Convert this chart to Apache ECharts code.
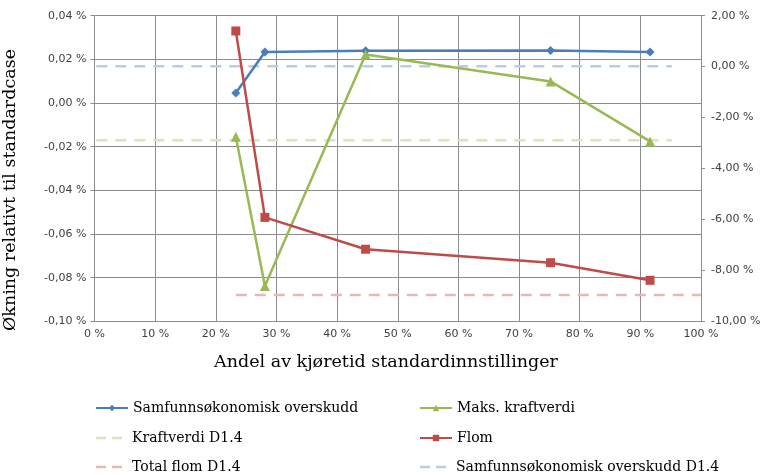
<!DOCTYPE html>
<html>
<head>
<meta charset="utf-8">
<script src="https://cdn.jsdelivr.net/npm/echarts@6/dist/echarts.min.js"></script>
<style>
  html, body { margin: 0; padding: 0; background: #fff; }
  #chart { width: 766px; height: 475px; }
</style>
</head>
<body>
<div id="chart"></div>
<script>
// Share of runtime with standard settings (%), shared by all measured series
const andelKjoretid = [23.3, 28.1, 44.7, 75.2, 91.6];

// Left axis (% increase relative to standard case)
const samfunnsokonomiskOverskudd = [0.0046, 0.0234, 0.0240, 0.0241, 0.0234];
const maksKraftverdi = [-0.0155, -0.0838, 0.0222, 0.0099, -0.0176];

// Right axis (%)
const flom = [1.40, -5.92, -7.17, -7.70, -8.39];

// Reference levels from case D1.4: [xStart, xEnd, value]
const kraftverdiD14 = [0.3, 95.2, -0.0171];
const samfunnsD14 = [0.3, 95.2, 0.0168];
const totalFlomD14 = [23.3, 100, -8.97];

// Axis tick settings
const xTicks = { min: 0, max: 100, interval: 10 };
const leftTicks = { min: -0.10, max: 0.04, interval: 0.02 };
const rightTicks = { min: -10, max: 2, interval: 2 };

const pairs = (xs, ys) => xs.map((x, i) => [x, ys[i]]);
const flat = (r) => [[r[0], r[2]], [r[1], r[2]]];
const fmt = (v, d) => {
  if (Math.abs(v) < 1e-9) v = 0;
  return v.toFixed(d).replace('.', ',') + ' %';
};

const axisGray = '#8c8c8c';
const labelStyle = { fontFamily: 'DejaVu Sans', fontSize: 11, color: '#404040' };
const serif = 'DejaVu Serif';

// Two short dashes as a legend icon for the reference levels (32 x 8 box)
const dashIcon = 'path://M0,0h0.05v0.05h-0.05z M31.95,7.95h0.05v0.05h-0.05z M1,2.8h10v2.4h-10z M17,2.8h10v2.4h-10z';

// Legend entries laid out in two columns and three rows
const legendSlots = [
  { name: 'Samfunnsøkonomisk overskudd', left: 95, top: 400 },
  { name: 'Maks. kraftverdi', left: 419, top: 400 },
  { name: 'Kraftverdi D1.4', left: 95, top: 430, icon: dashIcon },
  { name: 'Flom', left: 419, top: 430 },
  { name: 'Total flom D1.4', left: 95, top: 459, icon: dashIcon },
  { name: 'Samfunnsøkonomisk overskudd D1.4', left: 419, top: 459, icon: dashIcon }
];

const chart = echarts.init(document.getElementById('chart'));
chart.setOption({
  animation: false,
  grid: { left: 94.5, right: 65, top: 15.7, bottom: 153.7, containLabel: false },
  xAxis: {
    type: 'value',
    min: xTicks.min, max: xTicks.max, interval: xTicks.interval,
    axisLine: { show: true, lineStyle: { color: axisGray, width: 1 } },
    axisTick: { show: true, length: 4, lineStyle: { color: axisGray } },
    splitLine: { show: true, lineStyle: { color: axisGray, width: 1 } },
    axisLabel: Object.assign({ margin: 7, formatter: v => fmt(v, 0) }, labelStyle)
  },
  yAxis: [
    {
      type: 'value',
      min: leftTicks.min, max: leftTicks.max, interval: leftTicks.interval,
      axisLine: { show: true, lineStyle: { color: axisGray, width: 1 } },
      axisTick: { show: true, length: 4, lineStyle: { color: axisGray } },
      splitLine: { show: true, lineStyle: { color: axisGray, width: 1 } },
      axisLabel: Object.assign({ margin: 8, formatter: v => fmt(v, 2) }, labelStyle)
    },
    {
      type: 'value',
      position: 'right',
      min: rightTicks.min, max: rightTicks.max, interval: rightTicks.interval,
      axisLine: { show: true, lineStyle: { color: axisGray, width: 1 } },
      axisTick: { show: true, length: 4, lineStyle: { color: axisGray } },
      splitLine: { show: false },
      axisLabel: Object.assign({ margin: 10, formatter: v => fmt(v, 2) }, labelStyle)
    }
  ],
  legend: legendSlots.map(s => ({
    orient: 'horizontal', left: s.left, top: s.top, padding: 0,
    itemWidth: 32, itemHeight: 8,
    textStyle: { fontFamily: serif, fontSize: 14, color: '#000', lineHeight: 16 },
    data: [s.icon ? { name: s.name, icon: s.icon } : s.name]
  })),
  graphic: [
    {
      type: 'text', x: 386, y: 362,
      style: { text: 'Andel av kjøretid standardinnstillinger', fontFamily: serif, fontSize: 17.5, fill: '#000',
               align: 'center', verticalAlign: 'middle' }
    },
    {
      type: 'text', rotation: Math.PI / 2, x: 10, y: 190,
      style: { text: 'Økning relativt til standardcase', fontFamily: serif, fontSize: 17.5, fill: '#000',
               align: 'center', verticalAlign: 'middle' }
    }
  ],
  series: [
    {
      name: 'Kraftverdi D1.4', type: 'line', yAxisIndex: 0, symbol: 'none',
      data: flat(kraftverdiD14),
      lineStyle: { color: '#d7e4bd', width: 2.5, type: [11, 8] }, itemStyle: { color: '#d7e4bd' }
    },
    {
      name: 'Samfunnsøkonomisk overskudd D1.4', type: 'line', yAxisIndex: 0, symbol: 'none',
      data: flat(samfunnsD14),
      lineStyle: { color: '#b9cde5', width: 2.5, type: [11, 8] }, itemStyle: { color: '#b9cde5' }
    },
    {
      name: 'Total flom D1.4', type: 'line', yAxisIndex: 1, symbol: 'none',
      data: flat(totalFlomD14),
      lineStyle: { color: '#e6b9b8', width: 2.5, type: [11, 8] }, itemStyle: { color: '#e6b9b8' }
    },
    {
      name: 'Samfunnsøkonomisk overskudd', type: 'line', yAxisIndex: 0,
      symbol: 'diamond', symbolSize: 9,
      data: pairs(andelKjoretid, samfunnsokonomiskOverskudd),
      lineStyle: { color: '#4a7ebb', width: 2.5 }, itemStyle: { color: '#4a7ebb' }
    },
    {
      name: 'Maks. kraftverdi', type: 'line', yAxisIndex: 0,
      symbol: 'triangle', symbolSize: 10,
      data: pairs(andelKjoretid, maksKraftverdi),
      lineStyle: { color: '#98b954', width: 2.5 }, itemStyle: { color: '#98b954' }
    },
    {
      name: 'Flom', type: 'line', yAxisIndex: 1,
      symbol: 'rect', symbolSize: 9,
      data: pairs(andelKjoretid, flom),
      lineStyle: { color: '#be4b48', width: 2.5 }, itemStyle: { color: '#be4b48' }
    }
  ]
});
</script>
</body>
</html>
